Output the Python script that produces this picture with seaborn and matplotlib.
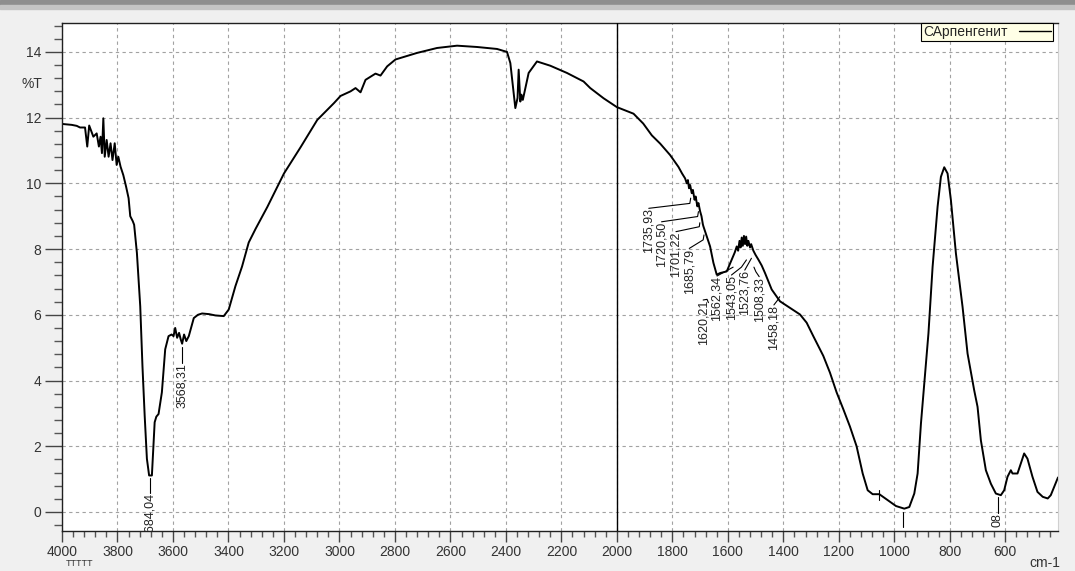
import numpy as np
import pandas as pd
import matplotlib
matplotlib.use("Agg")
import matplotlib.pyplot as plt
from matplotlib.lines import Line2D
from matplotlib.patches import Rectangle
from matplotlib.ticker import MultipleLocator
import seaborn as sns

# --- spectrum (cm-1, %T) ---
wavenumber = [
    4000, 3990, 3975, 3965, 3947, 3935, 3917, 3909, 3902, 3887, 3875, 3867,
    3861, 3856, 3851, 3846, 3839, 3832, 3825, 3818, 3810, 3803, 3797, 3789,
    3779, 3769, 3760, 3754, 3745, 3740, 3730, 3718, 3710, 3702, 3694, 3686,
    3676, 3666, 3660, 3652, 3640, 3628, 3616, 3605, 3598, 3592, 3585, 3578,
    3572, 3567, 3560, 3552, 3543, 3525, 3510, 3495, 3470, 3447, 3417, 3399,
    3375, 3351, 3327, 3302, 3260, 3200, 3140, 3080, 3020, 2996, 2960, 2942,
    2924, 2906, 2870, 2852, 2828, 2798, 2720, 2648, 2576, 2504, 2432, 2396,
    2384, 2366, 2358, 2354, 2348, 2344, 2339, 2318, 2288, 2240, 2180, 2120,
    2096, 2048, 2000, 1940, 1905, 1874, 1844, 1808, 1778, 1765, 1754, 1748,
    1744, 1740, 1736, 1730, 1726, 1720, 1716, 1710, 1706, 1700, 1695, 1690,
    1688, 1676, 1664, 1652, 1640, 1628, 1604, 1586, 1575, 1568, 1563, 1558,
    1554, 1550, 1546, 1542, 1538, 1534, 1530, 1526, 1520, 1516, 1508, 1500,
    1490, 1478, 1466, 1442, 1412, 1376, 1340, 1316, 1292, 1256, 1232, 1208,
    1184, 1160, 1136, 1124, 1114, 1096, 1078, 1054, 1024, 994, 964, 946,
    928, 916, 904, 892, 877, 862, 844, 832, 820, 808, 796, 778,
    754, 736, 712, 700, 688, 670, 652, 634, 616, 604, 592, 580,
    574, 556, 544, 532, 520, 502, 484, 465, 447, 436, 424, 410,
]
transmittance = [
    11.81, 11.80, 11.79, 11.78, 11.75, 11.70, 11.70, 11.12, 11.76, 11.42, 11.52, 11.12,
    11.42, 10.92, 11.98, 10.81, 11.32, 10.81, 11.22, 10.71, 11.22, 10.56, 10.81, 10.51,
    10.25, 9.90, 9.55, 9.00, 8.85, 8.74, 7.88, 6.26, 4.44, 2.93, 1.62, 1.11,
    1.11, 2.73, 2.90, 2.98, 3.64, 4.95, 5.35, 5.40, 5.35, 5.60, 5.30, 5.45,
    5.25, 5.12, 5.40, 5.20, 5.35, 5.90, 6.00, 6.04, 6.02, 5.98, 5.96, 6.16,
    6.87, 7.47, 8.20, 8.62, 9.28, 10.30, 11.10, 11.93, 12.44, 12.66, 12.80, 12.90,
    12.77, 13.15, 13.34, 13.28, 13.56, 13.77, 13.97, 14.12, 14.19, 14.15, 14.09, 14.00,
    13.66, 12.29, 12.60, 13.46, 12.49, 12.70, 12.54, 13.36, 13.71, 13.58, 13.36, 13.10,
    12.90, 12.59, 12.32, 12.12, 11.82, 11.46, 11.21, 10.86, 10.50, 10.30, 10.15, 10.00,
    10.10, 9.85, 9.95, 9.70, 9.80, 9.50, 9.60, 9.30, 9.40, 9.15, 9.00, 8.75,
    8.69, 8.38, 8.08, 7.58, 7.22, 7.27, 7.32, 7.68, 7.90, 8.08, 7.95, 8.25,
    8.05, 8.35, 8.10, 8.40, 8.15, 8.38, 8.10, 8.25, 8.05, 8.15, 7.95, 7.82,
    7.68, 7.50, 7.27, 6.77, 6.41, 6.21, 6.01, 5.76, 5.35, 4.75, 4.24, 3.64,
    3.13, 2.60, 2.00, 1.55, 1.17, 0.66, 0.54, 0.54, 0.36, 0.18, 0.10, 0.15,
    0.56, 1.17, 2.69, 3.91, 5.43, 7.46, 9.29, 10.20, 10.49, 10.30, 9.49, 7.87,
    6.24, 4.82, 3.70, 3.20, 2.18, 1.27, 0.86, 0.56, 0.51, 0.66, 1.07, 1.27,
    1.17, 1.17, 1.47, 1.78, 1.62, 1.07, 0.61, 0.46, 0.41, 0.51, 0.76, 1.05,
]
series_name = "САрпенгенит"

# --- peak picks ---
peak_values = [3684.04, 3568.31, 1735.93, 1720.50, 1701.22, 1685.79, 1620.21,
               1562.34, 1543.05, 1523.76, 1508.33, 1458.18, 620.08]
# how many trailing characters stay visible above the frame (None = all)
visible_tail = [None] * 12 + [2]
# label layout: text x, text top, knee x, knee y, end x, end y
label_layout = [
    (3684, 0.58, 3684, 0.58, 3684, 1.03),
    (3568, 4.53, 3568, 4.53, 3568, 5.02),
    (1885, 9.24, 1737, 9.39, 1734, 9.55),
    (1839, 8.83, 1709, 8.99, 1706, 9.14),
    (1787, 8.53, 1703, 8.68, 1701, 8.80),
    (1739, 8.02, 1689, 8.28, 1686, 8.43),
    (1689, 6.45, 1675, 6.47, 1670, 6.37),
    (1639, 7.18, 1581, 7.45, 1581, 7.45),
    (1587, 7.21, 1551, 7.45, 1533, 7.67),
    (1539, 7.36, 1533, 7.45, 1515, 7.72),
    (1487, 7.16, 1499, 7.31, 1506, 7.45),
    (1434, 6.30, 1422, 6.43, 1413, 6.55),
    (627, -0.03, 627, -0.03, 627, 0.46),
]
# leader lines whose text is hidden under the frame
bare_marks = [(969, -0.46, 0.0), (1056, 0.37, 0.67)]

sns.set_style("ticks")
plt.rcParams['font.family'] = ['Liberation Sans Narrow', 'Liberation Sans', 'DejaVu Sans']

df = pd.DataFrame({"wn": wavenumber, "T": transmittance})

fig = plt.figure(figsize=(10.75, 5.71), dpi=100, facecolor="#f0f0f0")
ax = fig.add_axes([62 / 1075, 1 - 531 / 571, (1058 - 62) / 1075, (531 - 23) / 571])
ax.set_facecolor("white")

# window chrome
fig.patches.append(Rectangle((0, 1 - 5 / 571), 1, 5 / 571, transform=fig.transFigure,
                             color="#8e8e8e", zorder=0))
fig.patches.append(Rectangle((0, 1 - 9 / 571), 1, 4 / 571, transform=fig.transFigure,
                             color="#c4c4c4", zorder=0))

sns.lineplot(data=df, x="wn", y="T", sort=False, estimator=None, color="black",
             lw=1.4, ax=ax, legend=False)

ax.set_xlim(4000, 410)
ax.set_ylim(-0.58, 14.88)
ax.set_xticks(np.arange(4000, 599, -200))
ax.xaxis.set_minor_locator(MultipleLocator(40))
ax.set_yticks(np.arange(0, 15, 2))
ax.yaxis.set_minor_locator(MultipleLocator(0.4))
ax.set_xlabel("")
ax.set_ylabel("")

ax.grid(True, which="major", ls=(0, (3, 3)), color="#a2a2a2", lw=0.8)
ax.axvline(2000, color="black", lw=1.0, zorder=3)

for side in ["left", "bottom", "top"]:
    ax.spines[side].set_color("#202020")
    ax.spines[side].set_linewidth(1.0)
ax.spines["right"].set_color("#d0d0d0")
ax.spines["right"].set_visible(True)
ax.spines["top"].set_visible(True)

ax.tick_params(axis="x", which="major", length=8, width=1, color="#444444",
               labelsize=10, labelcolor="#333333", pad=2)
ax.tick_params(axis="x", which="minor", length=4, width=1, color="#555555")
ax.tick_params(axis="y", which="major", length=12, width=1, color="#444444",
               labelsize=10, labelcolor="#333333", pad=3)
ax.tick_params(axis="y", which="minor", length=6, width=1, color="#555555")

# peak labels
for val, tail, (tx, ty, kx, ky, ex, ey) in zip(peak_values, visible_tail, label_layout):
    ax.plot([tx, kx, ex], [ty, ky, ey], color="black", lw=0.8, zorder=4)
    txt = f"{val:.2f}".replace(".", ",")
    if tail:
        txt = txt[-tail:]
    ax.text(tx, ty, txt, rotation=90, ha="center", va="top",
            fontsize=9, color="#222222", family=["Liberation Sans", "DejaVu Sans"],
            clip_on=True, zorder=4)
for mx, y0, y1 in bare_marks:
    ax.plot([mx, mx], [y0, y1], color="black", lw=0.8, zorder=4)

# legend
handle = Line2D([], [], color="black", lw=1.0)
leg = ax.legend([handle], [series_name], loc="upper right",
                bbox_to_anchor=((1053 - 62) / 996, 1.0), borderaxespad=0,
                markerfirst=False, handlelength=2.3, handletextpad=0.8,
                borderpad=0.15, fontsize=10, fancybox=False, framealpha=1,
                facecolor="#ffffe6", edgecolor="black")
leg.get_frame().set_linewidth(0.8)

fig.text(32 / 1075, 1 - 84 / 571, "%T", ha="center", va="center", fontsize=10,
         color="#333333")
fig.text(1045 / 1075, 1 - 563 / 571, "cm-1", ha="center", va="center", fontsize=10,
         color="#333333")
fig.text(79 / 1075, 1 - 564 / 571, "TTTTT", ha="center", va="center", fontsize=6.5,
         color="#333333")

fig.savefig("out.png", dpi=100, facecolor=fig.get_facecolor())
